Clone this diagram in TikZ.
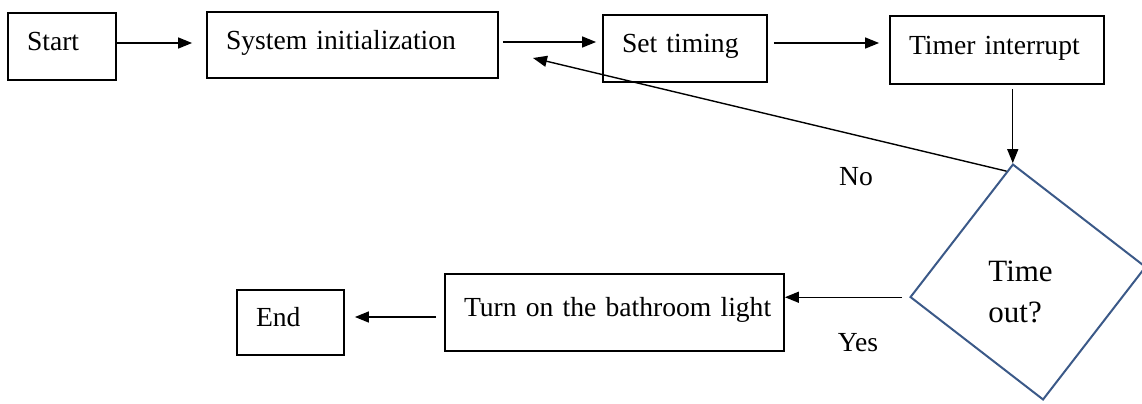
\documentclass[tikz,border=0pt]{standalone}
\usepackage{fontspec}
\setmainfont{Liberation Serif}
\usetikzlibrary{arrows.meta,calc}
\definecolor{decblue}{RGB}{59,89,136}
\begin{document}
\begin{tikzpicture}[x=0.5pt,y=-0.5pt]
    \tikzstyle{every node}+=[font=\fontsize{13.8}{20.5}\selectfont]
    \tikzstyle{box}=[draw=black, line width=0.9pt, inner xsep=9.5pt, inner ysep=0pt, align=left, text height=9.5pt, text depth=5.5pt]
    \tikzstyle{arr}=[black, line width=0.7pt, -{Triangle[length=7pt,width=5.5pt]}]
    \useasboundingbox (0,0) rectangle (1142,403);
    \node [box, text width=35pt, minimum height=33.5pt] (start) at (62,46.5) {Start};
    \node [box, text width=126.5pt, minimum height=33pt] (init) at (352.5,45) {System initialization};
    \node [box, text width=63pt, minimum height=33.5pt] (set) at (685,48.5) {Set timing};
    \node [box, text width=88pt, minimum height=34pt] (timer) at (997,50) {Timer interrupt};
    \node [box, text width=150.5pt, minimum height=38.5pt] (light) at (614.5,312.5) {\mbox{Turn on the bathroom light}};
    \node [box, text width=34.5pt, minimum height=32.5pt] (end) at (290.5,322.5) {End};
    \node [draw=decblue, line width=1pt, rotate=52.3, minimum size=83.75pt, inner sep=0pt] (dec) at (1028,282) {};
    \node [anchor=west, align=left, inner sep=0pt, font=\fontsize{15.5}{20.5}\selectfont] (dectext) at (988,291.5) {Time\\out?};
    \node (no) at (856,177) {No};
    \node (yes) at (858,343) {Yes};
    \coordinate (startarr) at ([yshift=1.75pt]start.east);
    \coordinate (initarr) at ([yshift=1.5pt]init.east);
    \coordinate (setarr) at ([yshift=2.75pt]set.east);
    \coordinate (endarr) at ([yshift=2.75pt]end.east);
    \coordinate (back) at (533,58);
    \draw [arr, shorten >=7pt] (startarr) -- (startarr -| init.west);
    \draw [arr, shorten <=2pt, shorten >=3pt] (initarr) -- (initarr -| set.west);
    \draw [arr, shorten <=3pt, shorten >=5pt] (setarr) -- (setarr -| timer.west);
    \draw [arr, shorten <=2pt] (timer.south -| dec.north east) -- (dec.north east);
    \draw [arr] ($(dec.north east)!0.06!(dec.north west)$) -- (back);
    \draw [arr, shorten <=3.5pt] (dec.north west) -- (dec.north west -| light.east);
    \draw [arr, shorten <=4pt, shorten >=5pt] (light.west |- endarr) -- (endarr);
\end{tikzpicture}
\end{document}
